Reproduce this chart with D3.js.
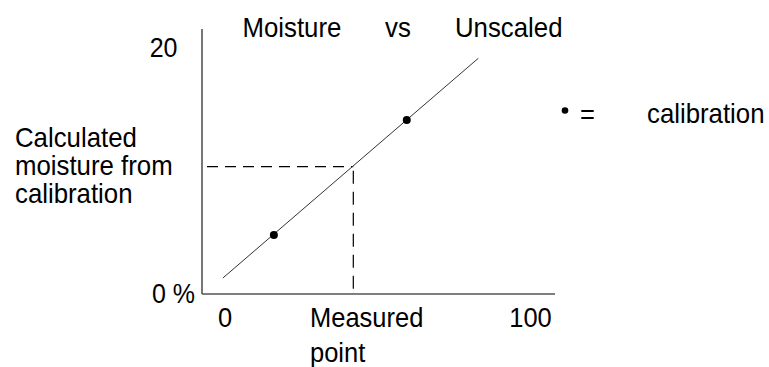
<!DOCTYPE html>
<html><head><meta charset="utf-8">
<script src="https://cdn.jsdelivr.net/npm/d3@7"></script>
<style>html,body{margin:0;padding:0;background:#fff;}svg{display:block;font-family:"Liberation Sans",Arial,sans-serif;}</style>
</head><body>
<svg id="c" width="769" height="367"></svg>
<script>
// data
const titleWords = ["Moisture", "vs", "Unscaled"];
const xTickLabels = ["0", "100"];
const xTickValues = [0, 100];
const yTickLabels = ["0 %", "20"];
const yTickValues = [0, 20];
const xLabelLines = ["Measured", "point"];
const yLabelLines = ["Calculated", "moisture from", "calibration"];
const lineX = [-0.7, 82.9];
const lineY = [1.3, 19.16];
const calibX = [16.0, 59.5];
const calibY = [4.8, 14.15];
const measuredX = [42.0];
const measuredY = [10.35];
const legendLabels = ["=", "calibration"];

const svg = d3.select("#c");
const x = d3.scaleLinear().domain([0, 100]).range([225, 530.5]);
const y = d3.scaleLinear().domain([0, 20]).range([294, 48]);
const frameLeft = 202, frameTop = 29, frameRight = 555, frameBottom = 294;
const SY = 1.07;

function txt(sel, tx, ty, anchor, size) {
  return sel.attr("transform", (d, i) => `translate(${tx(d, i)},${ty(d, i)}) scale(1,${SY})`)
    .attr("text-anchor", anchor).attr("font-size", size).attr("fill", "#000");
}

// axis frame lines
svg.append("line").attr("x1", frameLeft).attr("x2", frameLeft).attr("y1", frameTop).attr("y2", frameBottom)
  .attr("stroke", "#555").attr("stroke-width", 1.6);
svg.append("line").attr("x1", frameLeft).attr("x2", frameRight).attr("y1", frameBottom).attr("y2", frameBottom)
  .attr("stroke", "#555").attr("stroke-width", 1.6);

// x tick labels
txt(svg.selectAll(".xt").data(xTickValues).join("text").attr("class", "xt"),
  d => x(d), () => 326.7, "middle", 25.5).text((d, i) => xTickLabels[i]);
// y tick labels
const yRight = [195, 177.5];
txt(svg.selectAll(".yt").data(yTickValues).join("text").attr("class", "yt"),
  (d, i) => yRight[i], d => y(d) + 9.3, "end", 25).text((d, i) => yTickLabels[i]);

// axis titles
txt(svg.selectAll(".xl").data(xLabelLines).join("text").attr("class", "xl"),
  () => 310, (d, i) => 326.7 + i * 35, "start", 25.5).text(d => d);
txt(svg.selectAll(".yl").data(yLabelLines).join("text").attr("class", "yl"),
  () => 15, (d, i) => 147 + i * 28, "start", 25.8).text(d => d);

// title
const titleX = [242.5, 385, 455];
txt(svg.selectAll(".tt").data(titleWords).join("text").attr("class", "tt"),
  (d, i) => titleX[i], () => 37, "start", 25.8).text(d => d);

// dashed guide lines
svg.append("line").attr("x1", frameLeft + 5).attr("x2", x(measuredX[0]))
  .attr("y1", y(measuredY[0])).attr("y2", y(measuredY[0]))
  .attr("stroke", "#000").attr("stroke-width", 1.2).attr("stroke-dasharray", "11,7");
svg.append("line").attr("x1", x(measuredX[0])).attr("x2", x(measuredX[0]))
  .attr("y1", y(measuredY[0]) + 4).attr("y2", frameBottom)
  .attr("stroke", "#000").attr("stroke-width", 1.2).attr("stroke-dasharray", "13,8");

// calibration line
const lineData = lineX.map((v, i) => [v, lineY[i]]);
svg.append("path").datum(lineData)
  .attr("d", d3.line().x(d => x(d[0])).y(d => y(d[1])))
  .attr("stroke", "#333").attr("stroke-width", 1).attr("fill", "none");

// calibration points
svg.selectAll(".pt").data(calibX).join("circle").attr("class", "pt")
  .attr("cx", d => x(d)).attr("cy", (d, i) => y(calibY[i])).attr("r", 4).attr("fill", "#000");

// legend
svg.append("circle").attr("cx", 565).attr("cy", 110.5).attr("r", 3.3).attr("fill", "#000");
txt(svg.append("text"), () => 580, () => 124, "start", 25.5).text(legendLabels[0]);
txt(svg.append("text"), () => 647, () => 123, "start", 25.8).text(legendLabels[1]);
</script>
</body></html>
